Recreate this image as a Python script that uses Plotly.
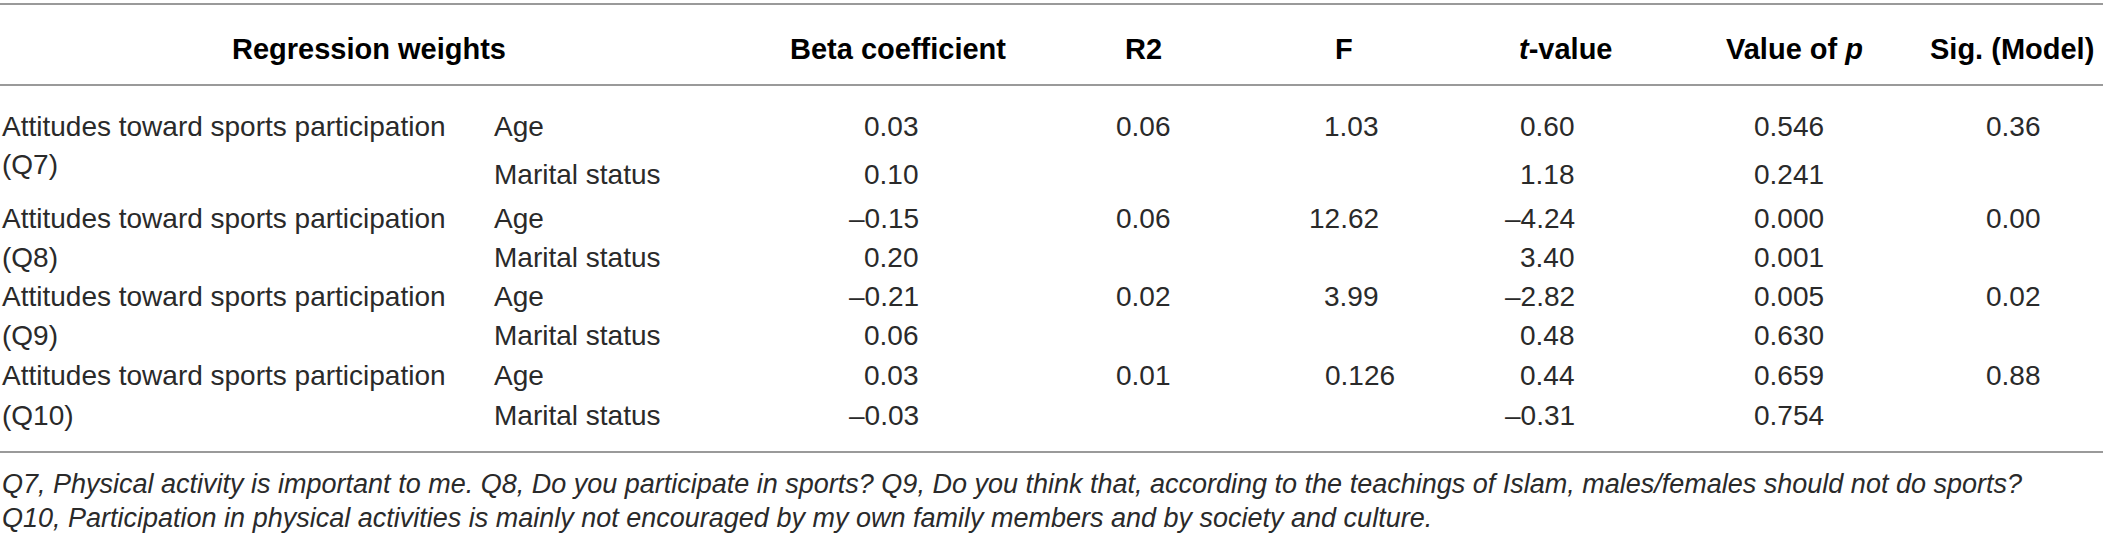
import plotly.graph_objects as go

# table content
groups = ["Attitudes toward sports participation", "Attitudes toward sports participation",
          "Attitudes toward sports participation", "Attitudes toward sports participation"]
group_tags = ["(Q7)", "(Q8)", "(Q9)", "(Q10)"]
predictors = ["Age", "Marital status"]
beta = [[0.03, 0.10], [-0.15, 0.20], [-0.21, 0.06], [0.03, -0.03]]
r2 = [0.06, 0.06, 0.02, 0.01]
f_vals = [1.03, 12.62, 3.99, 0.126]
t_vals = [[0.60, 1.18], [-4.24, 3.40], [-2.82, 0.48], [0.44, -0.31]]
p_vals = [[0.546, 0.241], [0.000, 0.001], [0.005, 0.630], [0.659, 0.754]]
sig = [0.36, 0.00, 0.02, 0.88]
headers = ["Regression weights", "Beta coefficient", "R2", "F",
           "<i>t</i>-value", "Value of <i>p</i>", "Sig. (Model)"]
footnotes = ["Q7, Physical activity is important to me. Q8, Do you participate in sports? "
             "Q9, Do you think that, according to the teachings of Islam, males/females should not do sports?",
             "Q10, Participation in physical activities is mainly not encouraged by my own family members "
             "and by society and culture."]

W, H = 2103, 542
FONT = "Liberation Sans, Arial, sans-serif"
TXT = "#2a2a2a"
SIZE = 28

# layout (pixels)
head_x = [369, 898, 1143, 1344, 1566, 1794, 2096]
head_anchor = ["center"] * 6 + ["right"]
head_y = 49
age_y = [126, 218, 296, 375]
mar_y = [174, 257, 335, 415]
tag_y = [164, 257, 335, 415]
x_lab = 0
x_pred = 492
x_beta, x_r2, x_f, x_t, x_p, x_sig = 921, 1173, 1381, 1577, 1826, 2043
digit_w = 0.556 * SIZE
rules = [4, 85, 452]
foot_y = [484, 518]


def num(v, d):
    s = f"{abs(v):.{d}f}"
    return ("\u2013" + s) if v < 0 else s


fig = go.Figure()
ann = []


def txt(x, y, s, anchor="left", bold=False, italic=False, size=SIZE, color=TXT):
    ann.append(dict(x=x, y=y, xref="x", yref="y", text=s, showarrow=False,
                    xanchor=anchor, yanchor="middle",
                    font=dict(family=FONT, size=size, color=color,
                              weight="bold" if bold else "normal",
                              style="italic" if italic else "normal")))


for hx, ha, h in zip(head_x, head_anchor, headers):
    txt(hx, head_y, h, anchor=ha, bold=True, color="#000", size=29)

for i in range(4):
    txt(x_lab, age_y[i], groups[i])
    txt(x_lab, tag_y[i], group_tags[i])
    rows = [age_y[i], mar_y[i]]
    for j in range(2):
        y = rows[j]
        txt(x_pred, y, predictors[j])
        txt(x_beta, y, num(beta[i][j], 2), anchor="right")
        txt(x_t, y, num(t_vals[i][j], 2), anchor="right")
        txt(x_p, y, num(p_vals[i][j], 3), anchor="right")
    txt(x_r2, age_y[i], num(r2[i], 2), anchor="right")
    txt(x_sig, age_y[i], num(sig[i], 2), anchor="right")
    # F column is aligned on the decimal point
    s = str(f_vals[i])
    extra = len(s.split(".")[1]) - 2
    txt(x_f + extra * digit_w, age_y[i], s, anchor="right")

for k, fn in enumerate(footnotes):
    txt(x_lab, foot_y[k], fn, italic=True, size=27)

shapes = [dict(type="line", xref="x", yref="y", x0=0, x1=W, y0=r, y1=r,
               line=dict(color="#9a9a9a", width=2)) for r in rules]

fig.update_layout(
    width=W, height=H,
    margin=dict(l=0, r=0, t=0, b=0),
    paper_bgcolor="white", plot_bgcolor="white",
    xaxis=dict(range=[0, W], visible=False, fixedrange=True),
    yaxis=dict(range=[H, 0], visible=False, fixedrange=True),
    annotations=ann, shapes=shapes, showlegend=False,
)

fig.write_html("out.html", config={"displayModeBar": False},
               post_script="document.body.style.margin='0';")
